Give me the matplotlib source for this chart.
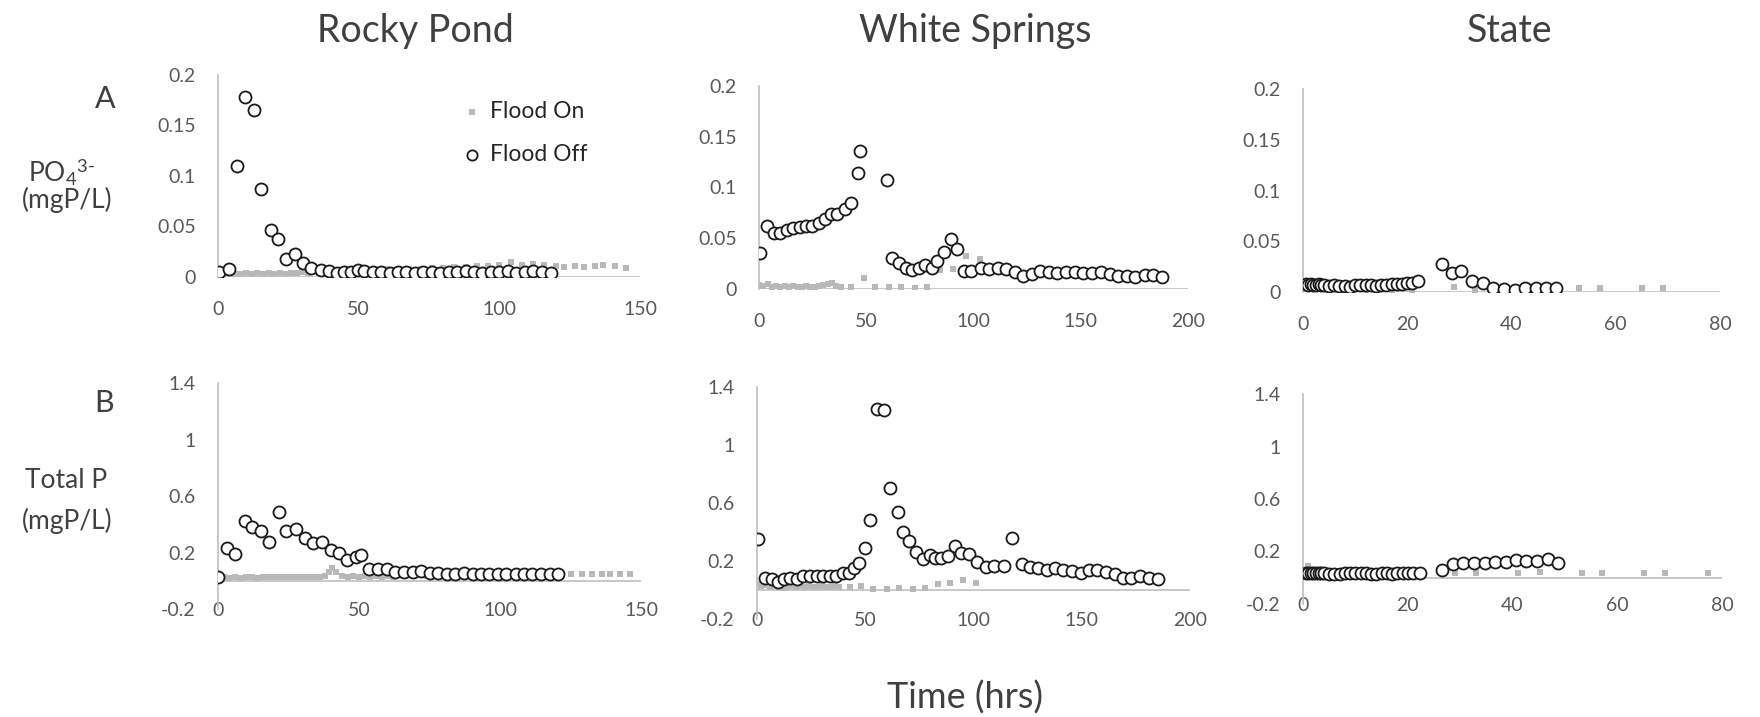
import matplotlib.pyplot as plt
import matplotlib
matplotlib.rcParams['font.family'] = 'Lato'
matplotlib.rcParams['mathtext.fontset'] = 'custom'
matplotlib.rcParams['mathtext.rm'] = 'Lato'
matplotlib.rcParams['mathtext.it'] = 'Lato:italic'

# ---- Rocky Pond, PO4 ----
rp_po4_on_x = [0, 2, 4, 6, 8, 10, 12, 14, 16, 18, 20, 22, 24, 26, 28, 30, 32, 34, 36, 38, 40,
               44, 48, 52, 56, 60, 64, 68, 72, 76, 80, 84, 88, 92, 96, 100, 104, 108, 112, 116, 120,
               123, 127, 130, 134, 137, 141, 145]
rp_po4_on_y = [0.004, 0.003, 0.004, 0.003, 0.003, 0.004, 0.003, 0.004, 0.003, 0.004, 0.003,
               0.004, 0.003, 0.004, 0.004, 0.005, 0.004, 0.005, 0.004, 0.005, 0.006,
               0.006, 0.007, 0.006, 0.007, 0.008, 0.007, 0.008, 0.008, 0.009, 0.009, 0.010, 0.010,
               0.011, 0.011, 0.012, 0.015, 0.012, 0.013, 0.012, 0.011,
               0.010, 0.011, 0.010, 0.011, 0.012, 0.011, 0.009]
rp_po4_off_x = [0.2, 3.8, 6.7, 9.6, 12.8, 15.3, 18.8, 21.2, 24, 27.5, 30.2, 33.1, 36.7, 39.6,
                42.3, 44.9, 47.2, 49.6, 52, 55, 58, 61, 64, 67, 70, 73, 76, 79, 82, 85, 88, 91,
                94, 97, 100, 103, 106, 109, 112, 115, 118.5]
rp_po4_off_y = [0.005, 0.008, 0.110, 0.178, 0.165, 0.087, 0.047, 0.038, 0.018, 0.023, 0.014,
                0.009, 0.007, 0.006, 0.004, 0.005, 0.005, 0.007, 0.006, 0.005, 0.005, 0.004,
                0.005, 0.005, 0.004, 0.005, 0.005, 0.004, 0.005, 0.005, 0.006, 0.005, 0.004,
                0.005, 0.005, 0.006, 0.004, 0.005, 0.006, 0.005, 0.004]

# ---- White Springs, PO4 ----
ws_po4_on_x = [0, 2, 4, 6, 8, 10, 12, 14, 16, 18, 20, 22, 24, 26, 28, 30, 32, 34, 36, 38,
               43, 48.8, 54.2, 60.6, 66.4, 72.6, 78.5, 84.5, 90.4, 96.3, 102.9]
ws_po4_on_y = [0.004, 0.003, 0.005, 0.002, 0.003, 0.002, 0.003, 0.002, 0.003, 0.002, 0.002,
               0.003, 0.002, 0.002, 0.003, 0.004, 0.005, 0.006, 0.003, 0.002,
               0.002, 0.011, 0.002, 0.002, 0.002, 0.001, 0.002, 0.019, 0.020, 0.033, 0.030]
ws_po4_off_x = [0.6, 3.9, 6.8, 9.9, 13, 15.9, 19, 22, 24.9, 27.8, 30.6, 33.4, 36.5, 39.9, 43,
                46.2, 47.2, 59.8, 62.2, 65.3, 68.4, 71.3, 74.4, 77.5, 80.7, 83.1, 86.2, 89.7,
                92.3, 95.4, 99, 103.6, 107.2, 111.4, 115.3, 119.2, 123.1, 127.3, 131.2, 135.2,
                139.1, 143.3, 147.2, 151, 155.4, 159.6, 163.5, 167.4, 171.6, 175.4, 179.8,
                183.6, 187.9]
ws_po4_off_y = [0.035, 0.062, 0.055, 0.055, 0.058, 0.060, 0.061, 0.062, 0.062, 0.065, 0.069,
                0.074, 0.074, 0.079, 0.085, 0.114, 0.136, 0.107, 0.031, 0.026, 0.021, 0.019,
                0.021, 0.024, 0.021, 0.028, 0.036, 0.049, 0.039, 0.018, 0.018, 0.021, 0.020,
                0.021, 0.020, 0.017, 0.013, 0.015, 0.018, 0.017, 0.016, 0.017, 0.017, 0.016,
                0.016, 0.017, 0.015, 0.013, 0.013, 0.012, 0.014, 0.014, 0.012]

# ---- State, PO4 ----
st_po4_on_x = [0.5, 1, 2, 3, 4, 6, 8, 10, 12, 14, 17, 21, 29, 33, 53, 57, 65, 69]
st_po4_on_y = [0.004, 0.003, 0.004, 0.003, 0.003, 0.003, 0.003, 0.003, 0.002, 0.002, 0.001,
               0.001, 0.005, 0.002, 0.004, 0.004, 0.004, 0.004]
st_po4_off_x = [0.5, 1, 1.5, 2, 2.5, 3, 3.5, 4, 5, 6, 7, 8, 9, 10, 11, 12, 13, 14, 15, 16, 17,
                18, 19, 20, 21, 22, 26.6, 28.5, 30.4, 32.5, 34.5, 36.4, 38.5, 40.6, 42.6, 44.7,
                46.6, 48.5]
st_po4_off_y = [0.008, 0.007, 0.008, 0.007, 0.007, 0.008, 0.007, 0.007, 0.006, 0.007, 0.006,
                0.006, 0.005, 0.007, 0.007, 0.007, 0.007, 0.006, 0.007, 0.007, 0.008, 0.008,
                0.008, 0.009, 0.009, 0.011, 0.028, 0.019, 0.021, 0.0105, 0.009, 0.004, 0.003,
                0.002, 0.0036, 0.004, 0.004, 0.004]

# ---- Rocky Pond, Total P ----
rp_tp_on_x = [0, 2, 4, 6, 8, 10, 12, 14, 16, 18, 20, 22, 24, 26, 28, 30, 32, 34, 36, 38, 39.5,
              40.5, 42, 44, 46, 48, 50, 52, 54, 56, 58, 60, 62, 66, 70, 74, 78, 82, 86, 90, 94,
              98, 102, 106, 110, 114, 118, 125, 129, 132.5, 136, 139, 142.5, 146]
rp_tp_on_y = [0.03, 0.025, 0.02, 0.025, 0.02, 0.025, 0.025, 0.02, 0.025, 0.03, 0.025, 0.03,
              0.025, 0.03, 0.03, 0.025, 0.03, 0.03, 0.03, 0.035, 0.06, 0.09, 0.06, 0.035, 0.03,
              0.035, 0.03, 0.035, 0.03, 0.035, 0.03, 0.035, 0.03, 0.035, 0.04, 0.035, 0.04,
              0.04, 0.04, 0.045, 0.04, 0.045, 0.04, 0.045, 0.045, 0.04, 0.045, 0.045, 0.045,
              0.045, 0.045, 0.05, 0.05, 0.045]
rp_tp_off_x = [0, 3.3, 6.1, 9.4, 12.1, 15.2, 18.2, 21.5, 24, 27.5, 30.8, 33.6, 36.9, 39.9, 43,
               45.7, 48.9, 50.6, 53.6, 56.6, 59.8, 62.7, 66, 69.2, 72.1, 75, 78, 81.2, 84.1,
               87.1, 90.3, 93.2, 96.1, 99.4, 102.3, 105.5, 108.4, 111.4, 114.5, 117.6, 120.7]
rp_tp_off_y = [0.03, 0.235, 0.19, 0.42, 0.38, 0.35, 0.275, 0.49, 0.35, 0.365, 0.305, 0.265,
               0.275, 0.22, 0.20, 0.146, 0.165, 0.18, 0.082, 0.082, 0.082, 0.064, 0.064, 0.064,
               0.068, 0.056, 0.056, 0.047, 0.047, 0.056, 0.047, 0.047, 0.047, 0.047, 0.047,
               0.047, 0.047, 0.047, 0.047, 0.047, 0.047]

# ---- White Springs, Total P ----
ws_tp_on_x = [0, 2, 4, 6, 8, 10, 12, 14, 16, 18, 20, 22, 24, 26, 28, 30, 32, 34, 36, 38,
              43, 48.1, 53.8, 60, 65.7, 71.9, 77.8, 83.5, 89.1, 95.3, 101]
ws_tp_on_y = [0.04, 0.03, 0.035, 0.02, 0.025, 0.02, 0.015, 0.02, 0.025, 0.02, 0.025, 0.02,
              0.025, 0.02, 0.02, 0.025, 0.02, 0.02, 0.025, 0.02,
              0.018, 0.028, 0.007, 0.007, 0.011, 0.007, 0.011, 0.041, 0.046, 0.069, 0.05]
ws_tp_off_x = [0.6, 3.7, 6.7, 9.7, 12.4, 15.2, 18.3, 21.3, 24.4, 27.5, 30.6, 33.7, 36.5, 39.6,
               42.7, 44.9, 47.2, 49.7, 52.3, 55.4, 58.5, 61.6, 65, 67.3, 70.4, 73.5, 76.5,
               79.7, 82.4, 85.1, 88.2, 91.3, 94.4, 97.9, 101.8, 105.6, 109.5, 114.2, 117.7,
               122.2, 126.1, 129.9, 133.8, 137.7, 141.5, 145.4, 149.7, 153.3, 157.2, 161.3,
               165.2, 169.1, 172.9, 176.8, 181, 185.3]
ws_tp_off_y = [0.351, 0.085, 0.076, 0.057, 0.073, 0.08, 0.073, 0.096, 0.099, 0.096, 0.096,
               0.096, 0.096, 0.119, 0.119, 0.149, 0.183, 0.291, 0.486, 1.25, 1.239, 0.704,
               0.539, 0.397, 0.337, 0.259, 0.213, 0.241, 0.218, 0.218, 0.236, 0.303, 0.252,
               0.245, 0.195, 0.161, 0.167, 0.167, 0.36, 0.177, 0.161, 0.149, 0.138, 0.149,
               0.138, 0.131, 0.115, 0.138, 0.138, 0.126, 0.11, 0.085, 0.085, 0.099, 0.085,
               0.076]

# ---- State, Total P ----
st_tp_on_x = [1, 2, 3, 5, 7, 9, 11, 13, 15, 17, 19, 21, 29, 33, 41, 45.2, 53.2, 57.1, 65.1,
              69.2, 77.4]
st_tp_on_y = [0.09, 0.03, 0.025, 0.02, 0.02, 0.02, 0.02, 0.02, 0.02, 0.02, 0.02, 0.02, 0.033,
              0.033, 0.038, 0.043, 0.033, 0.033, 0.033, 0.033, 0.033]
st_tp_off_x = [0.5, 1, 1.5, 2, 2.5, 3, 3.5, 4, 5, 6, 7, 8, 9, 10, 11, 12, 13, 14, 15, 16, 17,
               18, 19, 20, 21, 22.3, 26.6, 28.6, 30.6, 32.7, 34.7, 36.7, 38.7, 40.7, 42.6,
               44.6, 46.7, 48.6]
st_tp_off_y = [0.038, 0.04, 0.036, 0.038, 0.04, 0.038, 0.036, 0.04, 0.032, 0.03, 0.03, 0.038,
               0.038, 0.038, 0.038, 0.038, 0.03, 0.025, 0.035, 0.038, 0.025, 0.035, 0.038,
               0.038, 0.038, 0.038, 0.059, 0.102, 0.11, 0.11, 0.115, 0.12, 0.12, 0.135,
               0.128, 0.128, 0.14, 0.11]

sites = ['Rocky Pond', 'White Springs', 'State']
po4_ticks = [0, 0.05, 0.1, 0.15, 0.2]
po4_labels = ['0', '0.05', '0.1', '0.15', '0.2']
tp_ticks = [-0.2, 0.2, 0.6, 1.0, 1.4]
tp_labels = ['-0.2', '0.2', '0.6', '1', '1.4']
x_ticks = [[0, 50, 100, 150], [0, 50, 100, 150, 200], [0, 20, 40, 60, 80]]

W, H = 1760, 717
fig = plt.figure(figsize=(17.6, 7.17), dpi=100)


def box(x0, x1, ytop, ybot):
    return [x0 / W, 1 - ybot / H, (x1 - x0) / W, (ybot - ytop) / H]


AX_GRAY = '#bfbfbf'
TICK_C = '#595959'
TEXT_C = '#404040'
ON_C = '#b8b8b8'

panels = [
    (box(218, 640, 75, 277), rp_po4_on_x, rp_po4_on_y, rp_po4_off_x, rp_po4_off_y, 0, 'A'),
    (box(759, 1188, 86, 289), ws_po4_on_x, ws_po4_on_y, ws_po4_off_x, ws_po4_off_y, 1, 'A'),
    (box(1303, 1720, 89, 292), st_po4_on_x, st_po4_on_y, st_po4_off_x, st_po4_off_y, 2, 'A'),
    (box(218, 641, 383, 609), rp_tp_on_x, rp_tp_on_y, rp_tp_off_x, rp_tp_off_y, 0, 'B'),
    (box(757, 1190, 387, 619), ws_tp_on_x, ws_tp_on_y, ws_tp_off_x, ws_tp_off_y, 1, 'B'),
    (box(1303, 1722, 394, 604), st_tp_on_x, st_tp_on_y, st_tp_off_x, st_tp_off_y, 2, 'B'),
]

axes = []
for rect, onx, ony, offx, offy, col, row in panels:
    ax = fig.add_axes(rect)
    ax.scatter(onx, ony, marker='s', s=24, color=ON_C, linewidths=0,
               label='Flood On', zorder=2)
    ax.scatter(offx, offy, marker='o', s=75, facecolors='white', edgecolors='#1a1a1a',
               linewidths=1.3, label='Flood Off', zorder=3)
    xt = x_ticks[col]
    ax.set_xlim(xt[0], xt[-1])
    ax.set_xticks(xt)
    ax.set_xticklabels([str(t) for t in xt])
    if row == 'A':
        ax.set_ylim(0, 0.2)
        ax.set_yticks(po4_ticks)
        ax.set_yticklabels(po4_labels)
        ax.tick_params(axis='x', pad=17)
    else:
        ax.set_ylim(-0.2, 1.4)
        ax.set_yticks(tp_ticks)
        ax.set_yticklabels(tp_labels)
        ax.tick_params(axis='x', pad=-5)
    ax.axhline(0, color=AX_GRAY, linewidth=1.2, zorder=1)
    for s in ['top', 'right', 'bottom']:
        ax.spines[s].set_visible(False)
    ax.spines['left'].set_color(AX_GRAY)
    ax.spines['left'].set_linewidth(1.2)
    ax.tick_params(length=0, labelsize=14, labelcolor=TICK_C)
    ax.tick_params(axis='y', pad=16)
    ax.patch.set_alpha(0)
    axes.append(ax)

# legend in the first panel
axes[0].legend(loc='center left', bbox_to_anchor=(450 / W, 1 - 133 / H),
               bbox_transform=fig.transFigure, frameon=False, fontsize=16.5,
               labelspacing=1.0, handlelength=0.9, handletextpad=0.35, borderpad=0,
               markerscale=0.85, labelcolor='#262626')

# column titles
for name, cx in zip(sites, [415, 975, 1510]):
    fig.text(cx / W, 1 - 42 / H, name, ha='center', va='baseline', fontsize=27,
             color=TEXT_C)

# row labels
fig.text(105 / W, 1 - 99 / H, 'A', ha='center', va='center', fontsize=22, color=TEXT_C)
fig.text(104 / W, 1 - 403 / H, 'B', ha='center', va='center', fontsize=22, color=TEXT_C)
fig.text(62 / W, 1 - 171 / H, r'PO$_4$$^{3\text{-}}$', ha='center', va='center',
         fontsize=19, color=TEXT_C)
fig.text(67 / W, 1 - 200 / H, '(mgP/L)', ha='center', va='center', fontsize=19,
         color=TEXT_C)
fig.text(66 / W, 1 - 481 / H, 'Total P', ha='center', va='center', fontsize=19,
         color=TEXT_C)
fig.text(67 / W, 1 - 521 / H, '(mgP/L)', ha='center', va='center', fontsize=19,
         color=TEXT_C)

fig.text(965 / W, 1 - 709 / H, 'Time (hrs)', ha='center', va='baseline', fontsize=26,
         color=TEXT_C)

fig.savefig('out.png', dpi=100, facecolor='white')
